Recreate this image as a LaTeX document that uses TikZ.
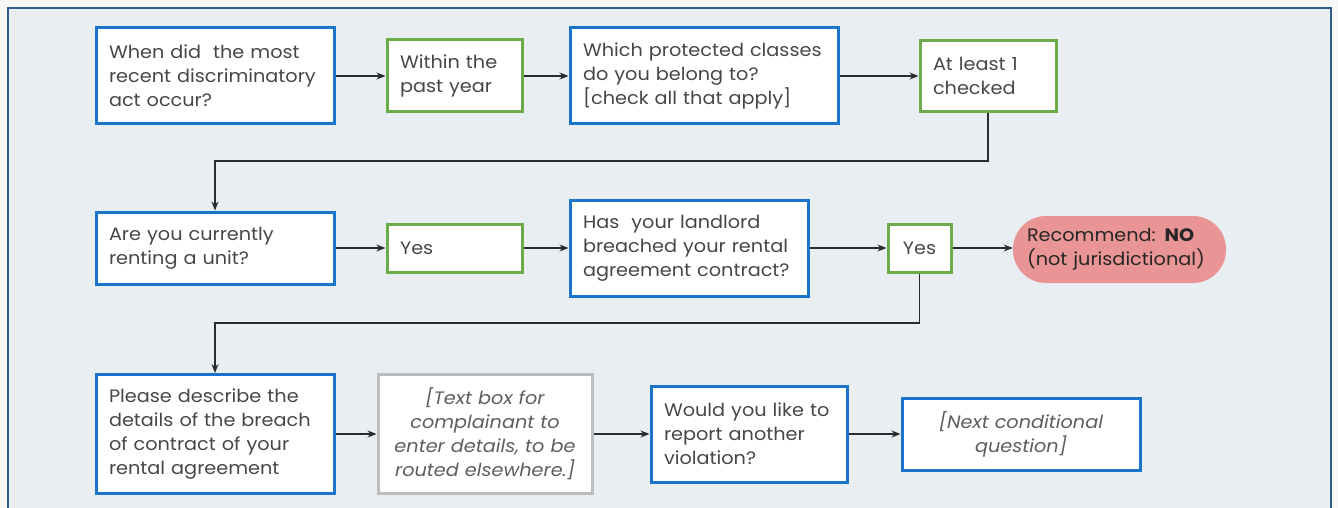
\documentclass[tikz,border=0pt]{standalone}
\usepackage{fontspec}
\setmainfont{Poppins}[FakeStretch=1.07]
\usetikzlibrary{arrows.meta,calc}
\definecolor{panelbg}{HTML}{E9EEF2}
\definecolor{panelline}{HTML}{2E5C8A}
\definecolor{bluebox}{HTML}{1B74CC}
\definecolor{greenbox}{HTML}{6AAB4A}
\definecolor{graybox}{HTML}{BDBDBD}
\definecolor{redfill}{HTML}{EA9595}
\definecolor{txt}{HTML}{474747}
\definecolor{txtit}{HTML}{5E5E5E}
\definecolor{linec}{HTML}{2B2B2B}
\tikzset{
  base/.style={draw, fill=white, line width=3pt, inner ysep=0pt, inner xsep=13pt,
    align=left, text=txt, font=\fontsize{18}{24}\selectfont, anchor=center},
  bbox/.style={base, draw=bluebox},
  gbox/.style={base, draw=greenbox},
  itbox/.style={align=center, text=txtit, font=\fontsize{18}{24}\selectfont\itshape},
  grbox/.style={base, draw=graybox, itbox},
  redbox/.style={rectangle, rounded corners=33pt, fill=redfill, draw=none, inner xsep=14pt, inner ysep=0pt,
    align=left, text=black!85, font=\fontsize{18}{24}\selectfont},
  arr/.style={draw=linec, line width=1.2pt, -{Stealth[length=9pt,width=7pt]}},
}
\begin{document}
\begin{tikzpicture}[x=1pt,y=-1pt]
\useasboundingbox (0,0) rectangle (1338,508);
\fill[white!97!black] (0,0) rectangle (1338,508);
\filldraw[fill=panelbg, draw=panelline, line width=1.2pt] (8,8) rectangle (1331,530);

\node[bbox, minimum width=238pt, minimum height=96pt, text width=212pt] (n1) at (215,76) {When did\ \ the most\\recent discriminatory\\act occur?};
\node[gbox, minimum width=135pt, minimum height=72pt, text width=109pt] (n2) at (454.5,76) {Within the\\past year};
\node[bbox, minimum width=268pt, minimum height=96pt, text width=242pt] (n3) at (704,76) {Which protected classes\\do you belong to?\\{[}check all that apply{]}};
\node[gbox, minimum width=136pt, minimum height=71pt, text width=110pt] (n4) at (988,76) {At least 1\\checked};

\node[bbox, minimum width=238pt, minimum height=72pt, text width=212pt] (n5) at (215,248) {Are you currently\\renting a unit?};
\node[gbox, minimum width=135pt, minimum height=48pt, text width=109pt] (n6) at (454.5,248) {Yes};
\node[bbox, minimum width=238pt, minimum height=96pt, text width=212pt] (n7) at (689,248) {Has\ \ your landlord\\breached your rental\\agreement contract?};
\node[gbox, minimum width=63pt, minimum height=48pt, inner xsep=0pt, text width=63pt, align=center] (n8) at (919.5,248) {Yes};
\node[redbox, minimum width=213pt, minimum height=67pt, text width=185pt] (n9) at (1119.5,249.5) {Recommend: \textbf{NO}\\(not jurisdictional)};

\node[bbox, minimum width=238pt, minimum height=119pt, text width=212pt] (n10) at (215,434) {Please describe the\\details of the breach\\of contract of your\\rental agreement};
\node[grbox, minimum width=214pt, minimum height=119pt, text width=188pt] (n11) at (485,434) {{[}Text box for\\complainant to\\enter details, to be\\routed elsewhere.{]}};
\node[bbox, minimum width=196pt, minimum height=96pt, text width=170pt] (n12) at (749,434) {Would you like to\\report another\\violation?};
\node[bbox, itbox, minimum width=238pt, minimum height=72pt, text width=212pt] (n13) at (1021,434) {{[}Next conditional\\question{]}};

\coordinate (b1) at (600,161);
\coordinate (b2) at (600,323);

\draw[arr] (n1) -- (n2);
\draw[arr] (n2) -- (n3);
\draw[arr] (n3) -- (n4);
\draw[arr] (n4.south) |- (b1) -| (n5.north);
\draw[arr] (n5) -- (n6);
\draw[arr] (n6) -- (n7);
\draw[arr] (n7) -- (n8);
\draw[arr] (n8) -- (n8 -| n9.west);
\draw[arr] (n8.south) |- (b2) -| (n10.north);
\draw[arr] (n10) -- (n11);
\draw[arr] (n11) -- (n12);
\draw[arr] (n12) -- (n13);
\end{tikzpicture}
\end{document}
